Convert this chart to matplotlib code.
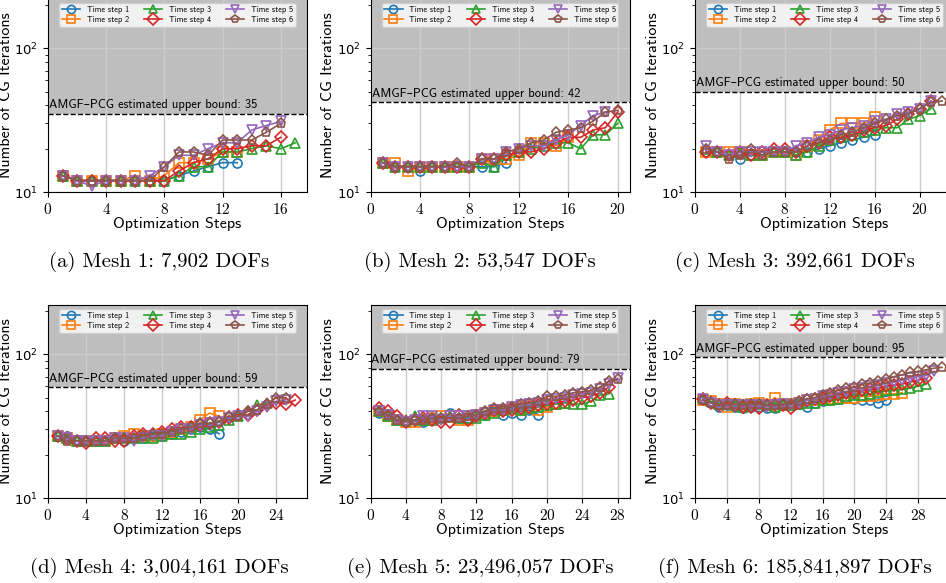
import numpy as np
import matplotlib
matplotlib.use("Agg")
import matplotlib.pyplot as plt

plt.rcParams['mathtext.fontset'] = 'cm'
plt.rcParams['axes.formatter.use_mathtext'] = True

# CG iterations per optimization step, one list per time step, for each mesh
mesh1 = [
    [13, 12, 12, 12, 12, 12, 12, 12, 13, 14, 15, 16, 16],
    [13, 12, 12, 12, 12, 13, 12, 13, 16, 16, 17, 19, 19],
    [13, 12, 12, 12, 12, 12, 12, 12, 13, 15, 15, 19, 19, 20, 21, 20, 22],
    [13, 12, 12, 12, 12, 12, 12, 12, 14, 16, 17, 20, 20, 21, 21, 24],
    [13, 12, 11, 12, 12, 12, 13, 15, 18, 18, 20, 22, 22, 27, 29, 31],
    [13, 12, 12, 12, 12, 12, 12, 15, 19, 19, 18, 23, 23, 23, 26, 30],
]
mesh2 = [
    [16, 15, 15, 14, 15, 15, 15, 15, 15, 15, 16],
    [16, 16, 14, 15, 15, 15, 15, 15, 17, 17, 17, 18, 22, 22, 21, 24],
    [16, 15, 15, 15, 15, 15, 15, 15, 16, 15, 18, 19, 20, 21, 22, 22, 20, 25, 25, 30],
    [16, 15, 15, 15, 15, 15, 15, 15, 17, 17, 18, 19, 19, 20, 22, 24, 24, 27, 28, 36],
    [16, 15, 15, 15, 15, 15, 15, 15, 17, 17, 19, 20, 21, 21, 23, 25, 29, 34, 36],
    [16, 15, 15, 15, 15, 15, 16, 15, 17, 17, 19, 20, 22, 23, 26, 27, 28, 31, 36, 37],
]
mesh3 = [
    [19, 19, 18, 17, 18, 18, 19, 19, 19, 19, 20, 21, 22, 23, 24, 25],
    [19, 19, 19, 19, 18, 18, 19, 19, 18, 21, 23, 27, 30, 30, 30, 33],
    [20, 19, 18, 19, 18, 18, 19, 19, 18, 19, 21, 23, 24, 25, 26, 27, 28, 28, 32, 34, 38],
    [19, 19, 18, 19, 18, 19, 20, 20, 19, 21, 22, 24, 24, 25, 27, 28, 29, 32, 35, 38, 43],
    [21, 19, 18, 19, 19, 19, 19, 19, 21, 22, 24, 25, 27, 28, 29, 31, 32, 35, 36, 38, 43],
    [20, 19, 17, 18, 20, 18, 19, 19, 19, 21, 22, 23, 25, 26, 28, 30, 32, 34, 35, 38, 42, 43],
]
mesh4 = [
    [27, 27, 25, 25, 25, 25, 26, 25, 26, 26, 27, 27, 28, 29, 30, 31, 30, 28],
    [27, 26, 25, 25, 25, 25, 26, 27, 28, 27, 27, 28, 29, 30, 31, 35, 39, 37],
    [27, 26, 25, 25, 25, 25, 26, 26, 26, 26, 26, 27, 28, 28, 29, 30, 31, 32, 35, 37, 40, 44, 46],
    [27, 26, 25, 24, 26, 26, 25, 25, 27, 28, 28, 29, 30, 31, 31, 32, 33, 34, 36, 38, 38, 41, 44, 46, 45, 48],
    [27, 26, 25, 25, 25, 25, 26, 26, 25, 26, 27, 27, 29, 30, 30, 32, 33, 34, 36, 37, 37, 40, 43, 47, 48],
    [27, 25, 25, 25, 25, 25, 26, 26, 26, 27, 28, 28, 29, 30, 31, 33, 33, 34, 37, 37, 40, 41, 45, 50, 50],
]
mesh5 = [
    [39, 37, 35, 34, 35, 34, 36, 36, 39, 36, 36, 37, 38, 40, 38, 39, 38, 41, 38],
    [40, 37, 35, 34, 34, 35, 36, 37, 37, 35, 35, 38, 39, 40, 41, 42, 41, 42, 41, 43, 45, 46],
    [40, 37, 35, 35, 37, 35, 35, 36, 37, 36, 36, 36, 38, 39, 41, 42, 41, 42, 43, 44, 45, 46, 45, 45, 47, 52, 53],
    [42, 40, 37, 34, 35, 36, 35, 34, 34, 38, 35, 37, 39, 41, 40, 41, 42, 43, 44, 45, 46, 47, 48, 50, 51, 54, 59],
    [40, 38, 35, 34, 35, 37, 37, 35, 37, 37, 37, 38, 39, 41, 41, 43, 44, 45, 46, 48, 49, 50, 52, 53, 54, 57, 62, 68],
    [40, 38, 35, 34, 35, 35, 36, 36, 36, 36, 37, 38, 40, 42, 42, 43, 45, 46, 47, 51, 51, 52, 54, 55, 56, 59, 65, 67],
]
mesh6 = [
    [48, 46, 43, 44, 43, 42, 43, 43, 42, 42, 44, 44, 45, 43, 46, 47, 48, 49, 50, 49, 48, 48, 46, 48],
    [48, 47, 45, 43, 45, 44, 45, 46, 44, 50, 45, 45, 46, 48, 48, 49, 49, 50, 50, 50, 51, 51, 52, 53, 53, 54],
    [50, 47, 45, 45, 44, 43, 44, 45, 44, 43, 44, 44, 45, 46, 46, 48, 48, 49, 51, 52, 52, 53, 55, 56, 56, 57, 58, 60, 62],
    [49, 46, 44, 46, 44, 43, 43, 42, 44, 44, 44, 42, 46, 48, 49, 50, 51, 52, 54, 55, 56, 57, 58, 60, 61, 62, 64, 66, 68],
    [49, 46, 44, 44, 44, 44, 44, 44, 43, 44, 45, 44, 46, 48, 49, 51, 52, 54, 55, 57, 58, 60, 61, 63, 64, 66, 68, 70, 71, 76],
    [48, 46, 44, 44, 45, 44, 45, 45, 44, 44, 45, 45, 47, 49, 50, 52, 54, 56, 58, 59, 62, 63, 65, 67, 70, 72, 75, 76, 78, 80, 81],
]

meshes = [mesh1, mesh2, mesh3, mesh4, mesh5, mesh6]
upper_bounds = [35, 42, 50, 59, 79, 95]
captions = ["(a) Mesh 1: 7,902 DOFs", "(b) Mesh 2: 53,547 DOFs", "(c) Mesh 3: 392,661 DOFs",
            "(d) Mesh 4: 3,004,161 DOFs", "(e) Mesh 5: 23,496,057 DOFs", "(f) Mesh 6: 185,841,897 DOFs"]
labels = ["Time step %d" % i for i in range(1, 7)]
markers = ['o', 's', '^', 'D', 'v', 'p']
colors = ['tab:blue', 'tab:orange', 'tab:green', 'tab:red', 'tab:purple', 'tab:brown']

sans = ['cmss10', 'DejaVu Sans']

W, H = 946, 583
fig = plt.figure(figsize=(W / 100, H / 100), dpi=100)

lefts = [48, 370.5, 695]
tops = [-1, 305]
axw, axh = 259, 193
cap_x = [159, 480, 795]
cap_y = [262, 568]

for i, (data, ub) in enumerate(zip(meshes, upper_bounds)):
    r, c = divmod(i, 3)
    ax = fig.add_axes([lefts[c] / W, 1 - (tops[r] + axh) / H, axw / W, axh / H])
    ax.set_yscale('log')
    nmax = max(len(s) for s in data)
    for s, lab, m, col in zip(data, labels, markers, colors):
        x = np.arange(1, len(s) + 1)
        ax.plot(x, s, marker=m, color=col, label=lab, lw=1.2, ms=6.5,
                mfc='none', mew=1.2, zorder=3)
    ax.axhspan(ub, 220, color='#bebebe', zorder=0, lw=0)
    ax.axhline(ub, color='black', ls='--', lw=1, zorder=2)
    ax.text(0.1, ub * 1.04, "AMGF\u2013PCG estimated upper bound: %d" % ub,
            family=sans, fontsize=9, va='bottom', ha='left')
    ax.set_ylim(10, 220)
    ax.set_xlim(0, nmax + 0.05 * (nmax - 1))
    ax.set_xticks(np.arange(0, nmax + 1, 4))
    ax.grid(True, color='#cccccc', lw=1)
    for t in ax.get_xticklabels():
        t.set_family('cmr10')
    ax.tick_params(axis='x', labelsize=11)
    ax.tick_params(axis='y', labelsize=9.5)
    ax.set_xlabel("Optimization Steps", family=sans, fontsize=11.5, labelpad=0)
    ax.set_ylabel("Number of CG Iterations", family=sans, fontsize=11.5, labelpad=1)
    ax.legend(loc='upper center', ncol=3, prop={'family': sans, 'size': 6},
              framealpha=0.8, borderpad=0.3, handlelength=2.2, columnspacing=1.8,
              labelspacing=0.3, markerscale=0.9)
    fig.text(cap_x[c] / W, 1 - cap_y[r] / H, captions[i], family='cmr10', fontsize=15,
             ha='center', va='center')

fig.savefig("out.png", dpi=100)
